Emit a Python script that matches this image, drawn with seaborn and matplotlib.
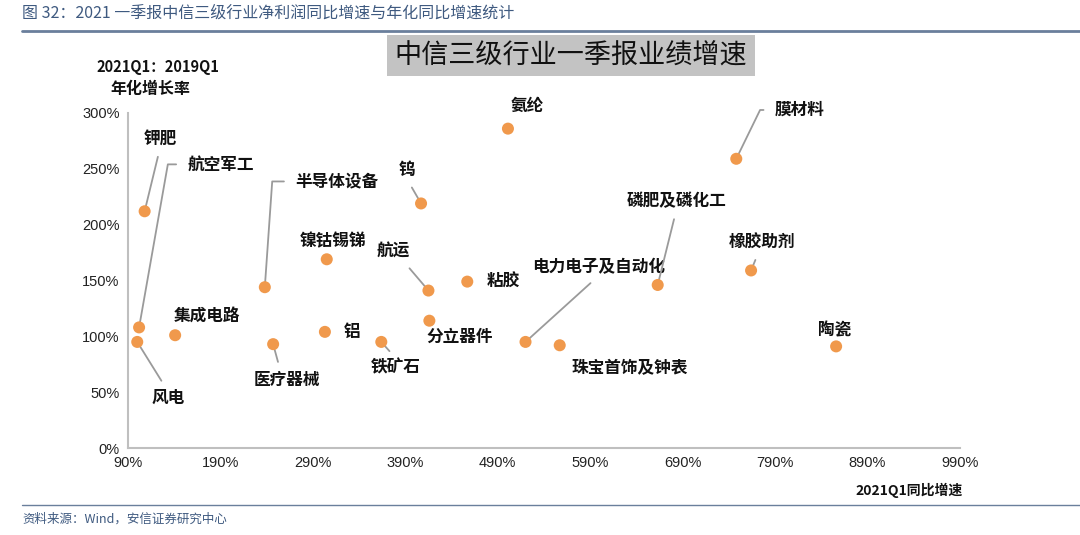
import matplotlib
matplotlib.use("Agg")
import matplotlib.pyplot as plt
from matplotlib.patches import Rectangle
from matplotlib.lines import Line2D
import pandas as pd
import seaborn as sns

# 行业名称、2021Q1同比增速(%)、2021Q1:2019Q1年化增长率(%)
industries = ["钾肥", "航空军工", "风电", "集成电路", "半导体设备", "医疗器械",
              "镍钴锡锑", "铝", "铁矿石", "钨", "航运", "分立器件", "粘胶", "氨纶",
              "电力电子及自动化", "珠宝首饰及钟表", "磷肥及磷化工", "橡胶助剂",
              "膜材料", "陶瓷"]
yoy_growth = [108, 102, 100, 141, 238, 247, 305, 303, 364, 407, 415, 416, 457, 501,
              520, 557, 663, 764, 748, 856]
annual_growth = [212, 108, 95, 101, 144, 93, 169, 104, 95, 219, 141, 114, 149, 286,
                 95, 92, 146, 159, 259, 91]

x_ticks = list(range(90, 991, 100))
y_ticks = list(range(0, 301, 50))

# 标签位置 (文本中心, 数据坐标), 引线: None=无, ("line", relpos), ("elbow", relpos, angleB)
label_pos = {
    "钾肥": (124.6, 276.6, ("line", (0.5, 0))),
    "航空军工": (190.6, 254.0, ("elbow", (0, 0.5), 80)),
    "风电": (133.3, 45.0, ("line", (0.45, 1))),
    "集成电路": (175.5, 118.9, None),
    "半导体设备": (316.2, 238.7, ("elbow", (0, 0.5), 86)),
    "医疗器械": (262.0, 61.3, ("line", (0.4, 1))),
    "镍钴锡锑": (312.0, 184.7, None),
    "铝": (332.4, 103.6, None),
    "铁矿石": (380.0, 72.0, ("line", (0.5, 1))),
    "钨": (392.0, 248.6, ("line", (0.5, 0))),
    "航运": (376.8, 175.7, ("line", (0.8, 0))),
    "分立器件": (449.3, 100.0, None),
    "粘胶": (495.8, 148.6, None),
    "氨纶": (521.8, 306.3, None),
    "电力电子及自动化": (598.7, 162.0, ("line", (0.5, 0))),
    "珠宝首饰及钟表": (632.2, 71.2, None),
    "磷肥及磷化工": (683.0, 220.7, ("line", (0.5, 0))),
    "橡胶助剂": (776.0, 184.0, ("line", (0.45, 0))),
    "膜材料": (817.0, 302.7, ("elbow", (0, 0.5), 64)),
    "陶瓷": (854.0, 105.4, None),
}

df = pd.DataFrame({"industry": industries, "yoy": yoy_growth, "annual": annual_growth})

sns.set_theme(style="white")
plt.rcParams["font.family"] = ["Noto Sans CJK SC", "DejaVu Sans"]

fig = plt.figure(figsize=(10.8, 5.35), dpi=100)
ax = fig.add_axes([128 / 1080, 1 - 448 / 535, (960 - 128) / 1080, (448 - 113) / 535])

sns.scatterplot(data=df, x="yoy", y="annual", ax=ax, color="#F0994C", s=75,
                edgecolor="none", zorder=5, legend=False)

ax.set_xlim(90, 990)
ax.set_ylim(0, 300)
ax.set_xticks(x_ticks)
ax.set_xticklabels([f"{v}%" for v in x_ticks])
ax.set_yticks(y_ticks)
ax.set_yticklabels([f"{v}%" for v in y_ticks])
ax.tick_params(axis="both", length=0, labelsize=10.5, colors="#222222", pad=6)
for lab in ax.get_xticklabels() + ax.get_yticklabels():
    lab.set_family(["Liberation Sans", "DejaVu Sans"])
ax.set_xlabel("")
ax.set_ylabel("")
for side in ["top", "right"]:
    ax.spines[side].set_visible(False)
for side in ["left", "bottom"]:
    ax.spines[side].set_color("#BFBFBF")
    ax.spines[side].set_linewidth(1.5)

# 行业标签与引线
for name, xv, yv in zip(industries, yoy_growth, annual_growth):
    tx, ty, leader = label_pos[name]
    if leader is None:
        ax.text(tx, ty, name, ha="center", va="center", fontsize=12,
                fontweight="bold", color="#111111")
        continue
    if leader[0] == "line":
        props = dict(arrowstyle="-", color="#9A9A9A", lw=1.3,
                     relpos=leader[1], shrinkA=4, shrinkB=2)
    else:
        props = dict(arrowstyle="-", color="#9A9A9A", lw=1.3, relpos=leader[1],
                     shrinkA=6, shrinkB=2,
                     connectionstyle=f"angle,angleA=0,angleB={leader[2]},rad=0")
    ax.annotate(name, xy=(xv, yv), xytext=(tx, ty), ha="center", va="center",
                fontsize=12, fontweight="bold", color="#111111", arrowprops=props)

# 坐标轴标题
fig.text(158 / 1080, 1 - 67 / 535, "2021Q1：2019Q1", ha="center", va="center",
         fontsize=10.5, fontweight="bold", color="#111111")
fig.text(150 / 1080, 1 - 89 / 535, "年化增长率", ha="center", va="center",
         fontsize=11.5, fontweight="bold", color="#111111")
fig.text(855 / 1080, 1 - 490 / 535, "2021Q1同比增速", ha="left", va="center",
         fontsize=10, fontweight="bold", color="#111111")

# 灰色标题框
fig.patches.append(Rectangle((387 / 1080, 1 - 76 / 535), 368 / 1080, 41 / 535,
                             transform=fig.transFigure, facecolor="#C3C3C3",
                             edgecolor="none", zorder=0))
fig.text(571 / 1080, 1 - 56 / 535, "中信三级行业一季报业绩增速", ha="center",
         va="center", fontsize=19.5, color="#111111")

# 页眉与页脚
fig.text(22 / 1080, 1 - 13 / 535,
         "图 32：2021 一季报中信三级行业净利润同比增速与年化同比增速统计",
         ha="left", va="center", fontsize=11.5, color="#3F5A80")
fig.lines.append(Line2D([22 / 1080, 1.0], [1 - 31 / 535, 1 - 31 / 535],
                        transform=fig.transFigure, color="#6A7F9C", lw=2))
fig.lines.append(Line2D([22 / 1080, 1.0], [1 - 505 / 535, 1 - 505 / 535],
                        transform=fig.transFigure, color="#6A7F9C", lw=1))
fig.text(22 / 1080, 1 - 519 / 535, "资料来源：Wind，安信证券研究中心", ha="left",
         va="center", fontsize=9, style="italic", color="#3F5A80")

fig.savefig("out.png", dpi=100)
